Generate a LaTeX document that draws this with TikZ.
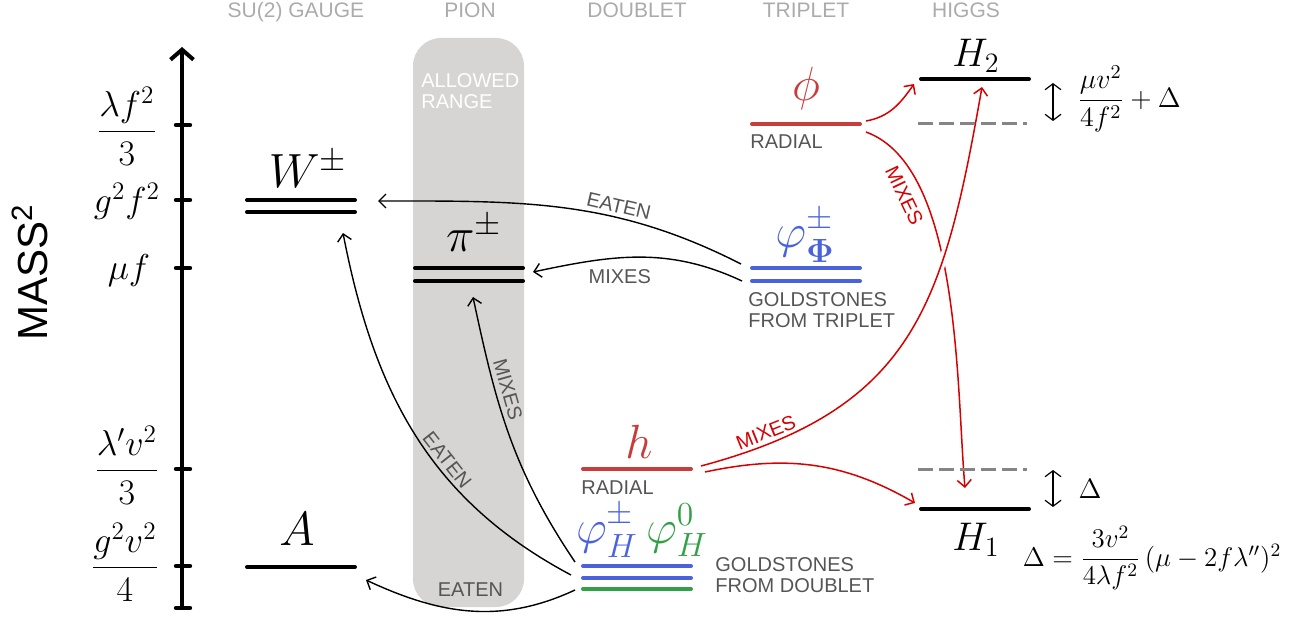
\RequirePackage{fix-cm}
\documentclass[tikz,border=0pt]{standalone}
\usepackage{amsmath}
\usepackage[no-math]{fontspec}
\setmainfont{Liberation Sans}
\usepackage{tikz}
\usetikzlibrary{positioning}
\usetikzlibrary{arrows.meta}

\definecolor{lvred}{HTML}{C83C3C}
\definecolor{arred}{HTML}{D60000}
\definecolor{lvblue}{HTML}{4A63DC}
\definecolor{lvgreen}{HTML}{33A047}
\definecolor{bandgray}{HTML}{D6D5D3}
\definecolor{hdrgray}{HTML}{ABABAB}
\definecolor{taggray}{HTML}{555555}
\definecolor{dashgray}{HTML}{858585}

\begin{document}
\begin{tikzpicture}[
  x=0.5pt, y=-0.5pt,
  >={Straight Barb[length=3.5pt,width=7pt]},
  lvl/.style={
      minimum width=54pt,
      minimum height=0pt,
      inner sep=0pt,
      outer sep=0pt,
      append after command={
        (\tikzlastnode.west) edge[draw=#1,line width=2pt,line cap=round] (\tikzlastnode.east)}
  },
  dashlvl/.style={
      draw=dashgray,
      line width=1.5pt,
      dash pattern=on 7.5pt off 3pt
  },
  hdr/.style={text=hdrgray, font=\fontsize{10.5}{12}\selectfont, anchor=base},
  tag/.style={text=taggray, font=\fontsize{10}{10.5}\selectfont, inner sep=0pt, align=left},
  redtag/.style={text=arred, font=\fontsize{10}{10.5}\selectfont, inner sep=2pt},
  ticklab/.style={font=\fontsize{18}{20}\selectfont, inner sep=0pt},
  part/.style={font=\fontsize{24}{26}\selectfont, inner sep=0pt, anchor=base},
  higgs/.style={font=\fontsize{20}{22}\selectfont, inner sep=0pt, anchor=base},
  gaplab/.style={font=\fontsize{14}{16}\selectfont, inner sep=0pt},
  link/.style={->, line width=0.7pt},
  redlink/.style={->, draw=arred, line width=0.75pt},
  gap/.style={<->, line width=0.6pt, >={Straight Barb[length=3pt,width=8pt]}}
]

\useasboundingbox (0,0) rectangle (1301,620);

\node[hdr] (hSU) at (296,18) {SU(2) GAUGE};
\node[hdr] (hPion) at (470,18) {PION};
\node[hdr] (hDoub) at (637,18) {DOUBLET};
\node[hdr] (hTrip) at (806,18) {TRIPLET};
\node[hdr] (hHiggs) at (966,18) {HIGGS};

\node[fill=bandgray, rounded corners=14pt, minimum width=55.5pt,
      minimum height=284.5pt, inner sep=0pt] (band) at (468.5,322.5) {};
\node[anchor=north west, text=white, font=\fontsize{10}{10.5}\selectfont,
      align=left, inner sep=0pt] (allow) at (421,73) {ALLOWED\\RANGE};

\node[rotate=90, font=\fontsize{21}{24}\selectfont] (mass) at (30,272) {MASS\textsuperscript{2}};

\coordinate (ax0) at (182,608);
\coordinate (ax1) at (182,47);
\draw[line width=2pt, -{Straight Barb[length=5pt,width=11.5pt]}] (ax0) -- (ax1);
\foreach \y in {125,200,268,469,566,608}
  \draw[line width=2.2pt, line cap=round] (176,\y) -- (190,\y);

\node[ticklab] (tk1) at (127,126) {$\dfrac{\lambda f^2}{3}$};
\node[ticklab] (tk2) at (127,201) {$g^2f^2$};
\node[ticklab] (tk3) at (129,270) {$\mu f$};
\node[ticklab] (tk4) at (127,465) {$\dfrac{\lambda' v^2}{3}$};
\node[ticklab] (tk5) at (125,562) {$\dfrac{g^2v^2}{4}$};

\node[lvl=black] (W1) at (301,200) {};
\node[lvl=black] (W2) at (301,212) {};
\node[part] (Wlab) at (308,188) {$W^{\pm}$};

\node[lvl=black] (A) at (301,567) {};
\node[part] (Alab) at (297,545) {$A$};

\node[lvl=black] (P1) at (469,268) {};
\node[lvl=black] (P2) at (469,281) {};
\node[part] (Plab) at (474,252) {$\pi^{\pm}$};

\node[lvl=lvred] (phi) at (806,124) {};
\node[part, text=lvred] (philab) at (806,101) {$\phi$};
\node[tag, anchor=base west] (phirad) at (750,149) {RADIAL};

\node[lvl=lvblue] (T1) at (806,268) {};
\node[lvl=lvblue] (T2) at (806,281) {};
\node[part, text=lvblue] (Tlab) at (805,248) {$\varphi^{\pm}_{\mathbf{\Phi}}$};
\node[tag, anchor=north west] (Ttxt) at (748,292) {GOLDSTONES\\FROM TRIPLET};

\node[lvl=lvred] (h) at (637,469) {};
\node[part, text=lvred] (hlab) at (639,458) {$h$};
\node[tag, anchor=base west] (hrad) at (581,494) {RADIAL};

\node[lvl=lvblue] (D1) at (637,566) {};
\node[lvl=lvblue] (D2) at (637,578) {};
\node[lvl=lvgreen] (D3) at (637,589) {};
\node[part, text=lvblue] (Dpm) at (607,543) {$\varphi^{\pm}_{H}$};
\node[part, text=lvgreen] (D0) at (677,543) {$\varphi^{0}_{H}$};
\node[tag, anchor=north west] (Dtxt) at (715,557) {GOLDSTONES\\FROM DOUBLET};

\node[lvl=black] (H2) at (975,79) {};
\node[higgs] (H2lab) at (976,67) {$H_2$};
\node[lvl=black] (H1) at (975,509) {};
\node[higgs] (H1lab) at (976,550) {$H_1$};

\draw[link]
([shift={(-11,-4)}]T1.west)
to[out=153,in=0]
node[tag, inner sep=2pt, sloped, above, pos=0.35] (eat1) {EATEN}
([shift={(23,1)}]W1.east);

\draw[link]
([shift={(-10,0)}]T2.west)
to[out=155,in=12]
node[tag, below=5.5pt, pos=0.6] (mix1) {MIXES}
([shift={(10,4)}]P1.east);

\draw[link]
([shift={(-8,-4)}]D1.west)
to[out=124,in=-78]
node[tag, inner sep=2.5pt, sloped, above, pos=0.67] (mix2) {MIXES}
([shift={(4,16)}]P2.center);

\draw[link]
([shift={(-12,-3)}]D2.west)
to[out=152,in=-79]
node[tag, inner sep=2pt, sloped, above, pos=0.4] (eat2) {EATEN}
([shift={(42,21)}]W2.center);

\draw[link]
([shift={(-8,1)}]D3.west)
to[out=205,in=-25]
node[tag, above=7pt, pos=0.5] (eat3) {EATEN}
([shift={(11,13)}]A.east);

\draw[redlink]
([shift={(6,8)}]phi.east)
to[out=-20,in=95,looseness=0.7]
node[redtag, sloped, below=3pt, pos=0.25] (mix3) {MIXES}
([shift={(-10,-21)}]H1.center);

\draw[redlink, preaction={draw=white, line width=4pt, -}]
([shift={(10,-3)}]h.east)
to[out=15,in=-100,looseness=1.2]
node[redtag, sloped, above, pos=0.12] (mix4) {MIXES}
([shift={(7,8)}]H2.center);

\draw[redlink]
([shift={(14,3)}]h.east)
to[out=12,in=150]
([shift={(-6,-6)}]H1.west);

\draw[redlink]
([shift={(6,-3)}]phi.east)
to[out=10,in=235]
([shift={(-7,5)}]H2.west);

\coordinate (H2da) at (918,124);
\coordinate (H2db) at (1027,124);
\coordinate (H1da) at (918,469);
\coordinate (H1db) at (1027,469);
\draw[dashlvl] (H2da) -- (H2db);
\draw[dashlvl] (H1da) -- (H1db);

\coordinate (g2a) at (1053,83);
\coordinate (g2b) at (1053,121);
\coordinate (g1a) at (1053,470);
\coordinate (g1b) at (1053,507);
\draw[gap] (g2a) -- (g2b);
\draw[gap] (g1a) -- (g1b);

\node[gaplab, anchor=west] (g2lab) at (1077,99) {$\dfrac{\mu v^2}{4f^2}+\Delta$};
\node[gaplab] (g1lab) at (1090,489) {$\Delta$};
\node[font=\fontsize{13.5}{15}\selectfont, inner sep=0pt] (dform) at (1152,558)
  {$\Delta=\dfrac{3v^2}{4\lambda f^2}\,(\mu-2f\lambda'')^2$};

\end{tikzpicture}
\end{document}
